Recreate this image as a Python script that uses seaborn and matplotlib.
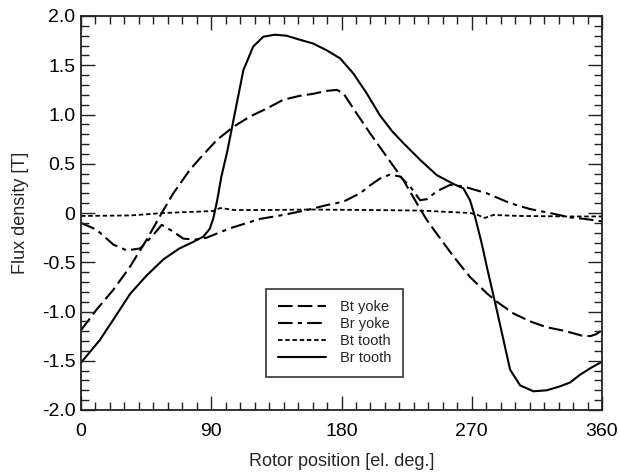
import numpy as np
import pandas as pd
import matplotlib
matplotlib.use("Agg")
import matplotlib.pyplot as plt
from matplotlib.ticker import MultipleLocator, FixedLocator, FixedFormatter
import seaborn as sns

# ---- data ----
br_tooth_x = [0, 13, 22, 34, 45, 57, 68, 78, 84.5, 89, 91.5, 94, 97, 101, 107.6, 112.2, 119, 126, 134, 142, 151,
              160.5, 170, 179, 188, 197.4, 206.6, 215, 222.7, 234.3, 245.8, 257.3, 264.2, 268.8, 272.3, 276.9, 280.4,
              287.3, 293, 296.5, 303.4, 312.6, 321.8, 331, 338, 345, 352.6, 360]
br_tooth_y = [-1.52, -1.29, -1.09, -0.82, -0.64, -0.47, -0.36, -0.29, -0.24, -0.16, -0.05, 0.12, 0.37, 0.62, 1.11,
              1.45, 1.69, 1.79, 1.81, 1.80, 1.76, 1.72, 1.65, 1.57, 1.42, 1.215, 0.99, 0.83, 0.71, 0.54, 0.385,
              0.295, 0.25, 0.13, -0.04, -0.31, -0.545, -0.985, -1.36, -1.59, -1.75, -1.81, -1.80, -1.76, -1.72,
              -1.64, -1.57, -1.51]

bt_yoke_x = [0, 10.8, 22.3, 33.9, 45.4, 55.8, 63.8, 75.3, 82.2, 93.8, 105.3, 116.8, 128.3, 139.8, 151.3, 160.5,
             169.8, 176.7, 181.3, 190.5, 199.7, 211.3, 222.7, 232, 238.9, 245.8, 257.3, 268.8, 280.4, 287.3, 298.8,
             310.3, 321.8, 332, 340, 346, 352, 356, 360]
bt_yoke_y = [-1.19, -0.98, -0.78, -0.545, -0.27, 0.0, 0.2, 0.44, 0.555, 0.74, 0.875, 0.98, 1.06, 1.15, 1.19, 1.21,
             1.24, 1.25, 1.215, 1.01, 0.81, 0.57, 0.335, 0.1, -0.07, -0.21, -0.44, -0.65, -0.815, -0.9, -1.02,
             -1.10, -1.16, -1.19, -1.22, -1.245, -1.25, -1.23, -1.19]

br_yoke_x = [0, 10.8, 22.3, 31.6, 40.8, 48.9, 55.8, 63.8, 70.7, 78.8, 86.9, 103, 123.7, 139.8, 156, 169.8, 181.3,
             192.8, 199.7, 206.6, 213.5, 220.5, 227.4, 234.3, 238.9, 245.8, 255, 264.2, 280.4, 296.5, 310.3, 324,
             338, 348, 360]
br_yoke_y = [-0.10, -0.17, -0.32, -0.38, -0.36, -0.24, -0.12, -0.19, -0.26, -0.27, -0.25, -0.155, -0.06, -0.02,
             0.03, 0.08, 0.115, 0.2, 0.28, 0.35, 0.39, 0.37, 0.27, 0.13, 0.14, 0.22, 0.285, 0.27, 0.2, 0.1, 0.04,
             0.0, -0.045, -0.06, -0.085]

bt_tooth_x = [0, 34, 57, 91.4, 96, 99, 106, 124, 160, 200, 234, 269, 274, 279, 285, 303, 338, 360]
bt_tooth_y = [-0.03, -0.025, 0.0, 0.02, 0.05, 0.045, 0.03, 0.03, 0.035, 0.03, 0.025, 0.0, -0.02, -0.05, -0.02,
              -0.03, -0.035, -0.035]

series_names = ["Bt yoke", "Br yoke", "Bt tooth", "Br tooth"]
x_ticks = [0, 90, 180, 270, 360]
y_ticks = [-2.0, -1.5, -1.0, -0.5, 0.0, 0.5, 1.0, 1.5, 2.0]
y_tick_labels = ["-2.0", "-1.5", "-1.0", "-0.5", "0", "0.5", "1.0", "1.5", "2.0"]

# ---- plot ----
sns.set_style("white")
plt.rcParams["font.family"] = ["Liberation Sans", "DejaVu Sans"]
plt.rcParams.update({
    "xtick.bottom": True, "xtick.top": True, "ytick.left": True, "ytick.right": True,
    "xtick.direction": "in", "ytick.direction": "in",
    "xtick.major.size": 10, "ytick.major.size": 10,
    "xtick.minor.size": 5.5, "ytick.minor.size": 5.5,
    "xtick.major.width": 1.0, "ytick.major.width": 1.0,
    "xtick.minor.width": 1.0, "ytick.minor.width": 1.0,
    "xtick.color": "#222222", "ytick.color": "#222222",
})

fig = plt.figure(figsize=(6.2, 4.75), dpi=100)
ax = fig.add_axes([81 / 620, 1 - 410 / 475, 521 / 620, 394 / 475])

styles = {
    "Bt yoke": (0, (7, 2.5)),
    "Br yoke": (0, (7, 2.5, 2, 2.5)),
    "Bt tooth": (0, (2.5, 1.5)),
    "Br tooth": "-",
}
data = {
    "Bt yoke": (bt_yoke_x, bt_yoke_y),
    "Br yoke": (br_yoke_x, br_yoke_y),
    "Bt tooth": (bt_tooth_x, bt_tooth_y),
    "Br tooth": (br_tooth_x, br_tooth_y),
}
for name in series_names:
    xs, ys = data[name]
    sns.lineplot(x=xs, y=ys, ax=ax, color="black", linewidth=1.5 if name != "Bt tooth" else 1.3,
                 linestyle=styles[name], label=name, sort=False)

ax.set_xlim(0, 360)
ax.set_ylim(-2.0, 2.0)
ax.xaxis.set_major_locator(FixedLocator(x_ticks))
ax.xaxis.set_minor_locator(MultipleLocator(10))
ax.yaxis.set_major_locator(FixedLocator(y_ticks))
ax.yaxis.set_major_formatter(FixedFormatter(y_tick_labels))
ax.yaxis.set_minor_locator(MultipleLocator(0.1))
ax.tick_params(which="both", direction="in", bottom=True, left=True, top=True, right=True,
               color="#222222", labelcolor="black", labelsize=14)
ax.tick_params(axis="x", which="major", pad=9)
ax.tick_params(axis="y", which="major", pad=4)
ax.tick_params(which="major", length=10, width=1.0)
ax.tick_params(which="minor", length=5.5, width=1.0)
for s in ax.spines.values():
    s.set_linewidth(1.3)
    s.set_color("#222222")
ax.set_axisbelow(False)

ax.set_xlabel("Rotor position [el. deg.]", fontsize=13, labelpad=9.5)
ax.set_ylabel("Flux density [T]", fontsize=13, labelpad=9)

leg = ax.legend(loc="lower left", bbox_to_anchor=(0.355, 0.084), frameon=True, fancybox=False,
                edgecolor="black", fontsize=10.5, handlelength=3.3, handletextpad=1.0,
                borderpad=0.8, labelspacing=0.2, borderaxespad=0)
leg.get_frame().set_linewidth(1.2)

fig.savefig("out.png", dpi=100)
